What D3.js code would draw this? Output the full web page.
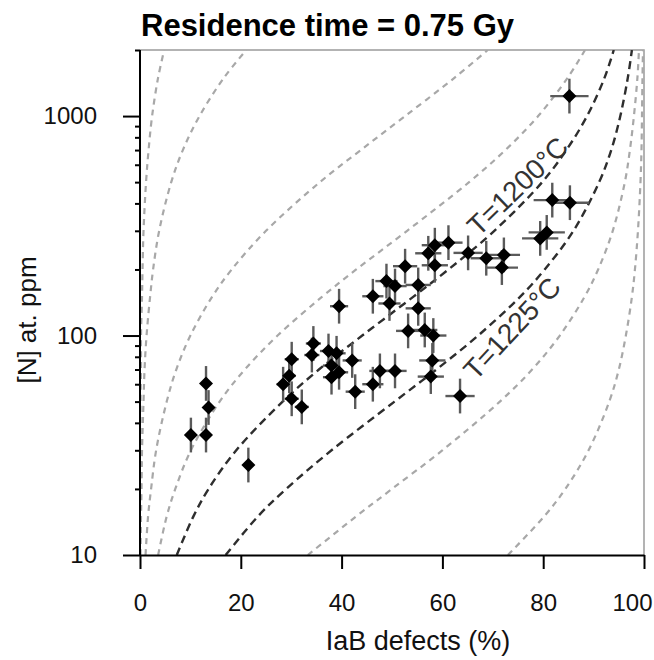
<!DOCTYPE html>
<html><head><meta charset="utf-8">
<script src="https://cdn.jsdelivr.net/npm/d3@7"></script>
<style>body{margin:0;background:#fff} svg{display:block}</style>
</head><body>
<svg id="chart" width="654" height="660"></svg>
<script>
// ---------- data ----------
const title = "Residence time = 0.75 Gy";
const xLabel = "IaB defects (%)";
const yLabel = "[N] at. ppm";
const xTicks = [0, 20, 40, 60, 80, 100];
const yTicks = [10, 100, 1000];

// measured samples: IaB (%), [N] (at. ppm), IaB error (%)
const pointsIaB = [85.2, 81.8, 85.3, 80.7, 79.4, 61.2, 58.5, 57.2, 65.1, 68.7, 72.2, 71.8, 52.6, 58.5, 55.2, 55.2, 53.2, 56.5, 58.2, 58.0, 57.7, 63.5, 48.9, 50.6, 46.2, 49.5, 39.5, 34.4, 34.1, 37.4, 39.0, 30.1, 42.1, 29.6, 28.4, 30.1, 32.1, 38.0, 39.5, 38.0, 42.7, 46.2, 47.6, 50.6, 13.1, 13.6, 10.1, 13.1, 21.5];
const pointsN   = [1233, 414, 403, 295, 277, 265, 258, 237, 238, 225, 233, 204, 207, 209, 170, 133, 105, 106, 100, 77, 65, 53, 177, 168, 151, 140, 136, 92, 81.5, 85, 83, 78, 77, 65.5, 60, 51.5, 47.3, 73, 68, 64.6, 55.5, 60, 69, 69, 60.5, 47, 35.2, 35.2, 25.7];
const pointsIaBErr = [3.8, 3.7, 3.8, 3.6, 3.6, 2.8, 2.6, 2.6, 2.9, 3.1, 3.2, 3.2, 2.4, 2.6, 2.5, 2.5, 2.4, 2.5, 2.6, 2.6, 2.6, 2.9, 2.2, 2.3, 2.1, 2.2, 1.8, 1.5, 1.5, 1.7, 1.8, 1.4, 1.9, 1.3, 1.3, 1.4, 1.4, 1.7, 1.8, 1.7, 1.9, 2.1, 2.1, 2.3, 0.6, 0.6, 0.5, 0.6, 1.0];
const nErrFactor = 1.2;

// isotherm curves: [N] levels and IaB (%)
const curveN      = [10, 15, 20, 30, 50, 70, 100, 150, 200, 300, 500, 700, 1000, 1500, 2000];
const curveGrayA  = [0.0, 0.0, 0.1, 0.1, 0.1, 0.2, 0.2, 0.4, 0.5, 0.7, 1.2, 1.7, 2.4, 3.6, 4.8];
const curveGrayB  = [0.1, 0.2, 0.3, 0.4, 0.7, 0.9, 1.3, 2.0, 2.6, 3.8, 6.2, 8.5, 11.8, 16.7, 21.1];
const curveGrayC  = [1.1, 1.6, 2.2, 3.2, 5.3, 7.2, 10.0, 14.3, 18.2, 25.0, 35.7, 43.8, 52.6, 62.5, 69.0];
const curveGrayD  = [3.6, 5.3, 7.0, 10.1, 15.8, 20.8, 27.3, 36.1, 42.9, 53.0, 65.3, 72.5, 79.0, 84.9, 88.3];
const curveT1200  = [7.3, 10.6, 13.6, 19.1, 28.3, 35.5, 44.1, 54.2, 61.2, 70.3, 79.8, 84.6, 88.7, 92.2, 94.0];
const curveT1225  = [17.0, 23.4, 29.0, 38.0, 50.5, 58.8, 67.1, 75.4, 80.3, 86.0, 91.1, 93.5, 95.3, 96.8, 97.6];
const curveGrayE  = [33.3, 42.9, 50.0, 60.0, 71.4, 77.8, 83.3, 88.2, 90.9, 93.8, 96.2, 97.2, 98.0, 98.7, 99.0];
const curveGrayF  = [73.0, 80.2, 84.4, 89.0, 93.1, 95.0, 96.4, 97.6, 98.2, 98.8, 99.3, 99.5, 99.6, 99.7, 99.8];
const curveLabelTexts = ["T=1200°C", "T=1225°C"];

// ---------- layout ----------
(function () {
const FONT = "'Liberation Sans', Arial, Helvetica, sans-serif";
const pL = 140, pR = 644, pT = 50, pB = 555;
const svg = d3.select("#chart");

const x = d3.scaleLinear().domain([0, 100]).range([pL, pR]);
const y = d3.scaleLog().domain([10, 2000]).range([pB, pT]);

svg.append("defs").append("clipPath").attr("id", "plotclip")
  .append("rect").attr("x", pL).attr("y", pT).attr("width", pR - pL).attr("height", pB - pT);

// frame (top / right in grey)
svg.append("path")
  .attr("d", `M${pL},${pT}H${pR}V${pB}`)
  .attr("fill", "none").attr("stroke", "#9a9a9a").attr("stroke-width", 1.5);

// curves
const curveDefs = [
  {v: curveGrayA, dark: false}, {v: curveGrayB, dark: false}, {v: curveGrayC, dark: false},
  {v: curveGrayD, dark: false}, {v: curveT1200, dark: true}, {v: curveT1225, dark: true},
  {v: curveGrayE, dark: false}, {v: curveGrayF, dark: false}
];
const line = d3.line().x(d => x(d[0])).y(d => y(d[1])).curve(d3.curveCatmullRom.alpha(0.5));
const gc = svg.append("g").attr("clip-path", "url(#plotclip)");
curveDefs.forEach(c => {
  gc.append("path")
    .attr("d", line(c.v.map((b, i) => [b, curveN[i]])))
    .attr("fill", "none")
    .attr("stroke", c.dark ? "#2e2e2e" : "#a8a8a8")
    .attr("stroke-width", c.dark ? 2.4 : 2.2)
    .attr("stroke-dasharray", c.dark ? "8,5" : "6,5");
});

// curve labels
const labelPos = [{bx: 74.9, n: 480, rot: -44}, {bx: 73.8, n: 108, rot: -47}];
curveLabelTexts.forEach((t, i) => {
  const p = labelPos[i];
  svg.append("text")
    .attr("transform", `translate(${x(p.bx)},${y(p.n)}) rotate(${p.rot})`)
    .attr("text-anchor", "middle").attr("dy", "0.35em")
    .attr("font-family", FONT).attr("font-size", 28).attr("fill", "#333")
    .text(t);
});

// points
const pts = pointsIaB.map((b, i) => ({b, n: pointsN[i], e: pointsIaBErr[i]}));
const gp = svg.append("g");
gp.selectAll("line.h").data(pts).join("line").attr("class", "h")
  .attr("x1", d => x(d.b - d.e)).attr("x2", d => x(d.b + d.e))
  .attr("y1", d => y(d.n)).attr("y2", d => y(d.n))
  .attr("stroke", "#5a5a5a").attr("stroke-width", 2.4);
gp.selectAll("line.v").data(pts).join("line").attr("class", "v")
  .attr("x1", d => x(d.b)).attr("x2", d => x(d.b))
  .attr("y1", d => y(d.n / nErrFactor)).attr("y2", d => y(d.n * nErrFactor))
  .attr("stroke", "#5a5a5a").attr("stroke-width", 2.4);
const s = 7;
gp.selectAll("path.d").data(pts).join("path").attr("class", "d")
  .attr("d", `M0,${-s}L${s},0L0,${s}L${-s},0Z`)
  .attr("transform", d => `translate(${x(d.b)},${y(d.n)})`)
  .attr("fill", "#000");

// x axis
const xa = svg.append("g").attr("transform", `translate(0,${pB})`)
  .call(d3.axisBottom(x).tickValues(xTicks).tickSize(14).tickPadding(25).tickSizeOuter(0));
xa.selectAll(".tick line").attr("stroke", "#000").attr("stroke-width", 2);
xa.selectAll(".tick text").attr("font-family", FONT).attr("font-size", 24).attr("fill", "#111")
  .attr("dx", d => d === 100 ? -12 : 0);

// y axis
const minor = [];
[10, 100, 1000].forEach(d => { for (let k = 2; k <= 9; k++) { if (d * k <= 2000) minor.push(d * k); } });
const ya = svg.append("g").attr("transform", `translate(${pL},0)`);
ya.call(d3.axisLeft(y).tickValues(minor).tickSize(5).tickFormat("").tickSizeOuter(0));
ya.selectAll(".tick line").attr("stroke", "#000").attr("stroke-width", 2);
const yb = svg.append("g").attr("transform", `translate(${pL},0)`)
  .call(d3.axisLeft(y).tickValues(yTicks).tickFormat(d3.format("d")).tickSize(17).tickPadding(26).tickSizeOuter(0));
yb.selectAll(".tick line").attr("stroke", "#000").attr("stroke-width", 2);
yb.selectAll(".tick text").attr("font-family", FONT).attr("font-size", 24).attr("fill", "#111");
svg.selectAll(".domain").attr("stroke", "#000").attr("stroke-width", 2);
ya.select(".domain").attr("d", `M0,${pT}V${pB}`);
yb.select(".domain").attr("d", `M0,${pT}V${pB}`);

// titles
svg.append("text").attr("x", 141).attr("y", 36)
  .attr("font-family", FONT).attr("font-weight", "bold").attr("font-size", 31).attr("fill", "#000")
  .text(title);
svg.append("text").attr("x", 418).attr("y", 650).attr("text-anchor", "middle")
  .attr("font-family", FONT).attr("font-size", 27).attr("fill", "#111").text(xLabel);
svg.append("text").attr("transform", "translate(36,320) rotate(-90)").attr("text-anchor", "middle")
  .attr("font-family", FONT).attr("font-size", 26).attr("fill", "#111").text(yLabel);
})();
</script>
</body></html>
